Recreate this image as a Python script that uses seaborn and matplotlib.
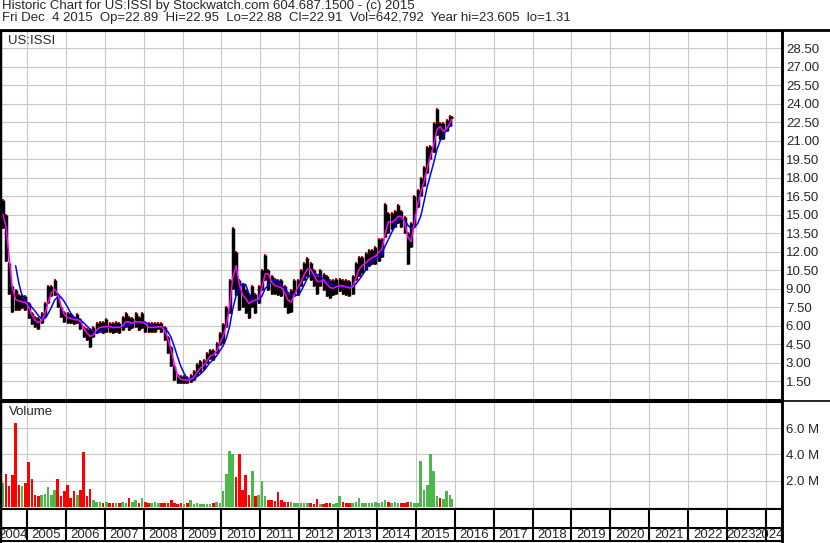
import pandas as pd
import matplotlib
matplotlib.use("Agg")
import matplotlib.pyplot as plt
from matplotlib.lines import Line2D
import seaborn as sns

# monthly high / low, May 2004 .. Dec 2015
months = pd.period_range("2004-05", "2015-12", freq="M")

high = [16.2, 15.0, 11.1, 9.2, 8.9, 8.5, 8.5, 8.4,
        7.8, 7.0, 6.7, 6.6, 7.0, 7.8, 9.2, 9.2, 9.7, 8.6, 7.5, 7.1,
        7.0, 6.9, 6.7, 6.9, 6.5, 5.9, 5.7, 5.7, 5.9, 6.2, 6.3, 6.3,
        6.5, 6.2, 6.2, 6.3, 6.2, 6.7, 7.0, 6.7, 6.6, 7.0, 6.7, 7.0,
        6.3, 6.2, 6.2, 6.2, 6.2, 6.2, 5.9, 5.1, 4.3, 2.7, 2.0, 1.9,
        1.9, 1.8, 2.0, 2.3, 2.9, 3.1, 3.2, 3.8, 4.0, 4.0, 4.6, 5.4,
        6.1, 7.5, 9.7, 13.9, 12.0, 9.7, 9.4, 8.9, 8.6, 9.2, 8.6, 9.2,
        10.5, 11.7, 10.5, 10.0, 9.8, 9.7, 9.7, 9.2, 8.6, 8.9, 9.7, 9.7,
        10.5, 11.1, 11.5, 11.1, 10.5, 10.0, 10.5, 10.2, 10.0, 9.7, 9.7, 9.8,
        9.8, 9.7, 9.7, 9.6, 10.0, 11.1, 11.6, 11.6, 11.9, 12.1, 12.1, 12.4,
        13.0, 13.0, 15.9, 15.1, 15.1, 15.3, 15.8, 15.3, 14.8, 13.5, 14.3, 16.5,
        17.0, 18.0, 18.9, 20.5, 20.6, 22.4, 23.6, 22.4, 22.4, 22.7, 23.0, 22.95]

low = [13.9, 11.2, 8.6, 7.1, 7.3, 7.3, 7.4, 7.3,
       6.6, 6.1, 5.9, 5.7, 6.2, 6.7, 7.8, 8.4, 8.5, 7.5, 6.7, 6.3,
       6.2, 6.2, 6.1, 6.2, 5.7, 5.1, 4.8, 4.3, 5.1, 5.4, 5.5, 5.4,
       5.5, 5.5, 5.4, 5.5, 5.4, 5.6, 5.9, 5.6, 5.8, 5.9, 5.6, 5.8,
       5.5, 5.5, 5.5, 5.5, 5.7, 5.5, 4.8, 3.8, 2.7, 1.6, 1.3, 1.3,
       1.3, 1.3, 1.4, 1.6, 2.0, 2.2, 2.5, 3.0, 3.3, 3.2, 3.8, 4.4,
       4.6, 5.9, 7.0, 9.0, 8.5, 7.3, 7.5, 7.0, 6.6, 7.5, 7.0, 7.8,
       8.9, 9.7, 8.9, 8.6, 8.6, 8.5, 8.4, 7.5, 7.0, 7.1, 8.4, 8.5,
       9.2, 9.7, 10.0, 9.7, 9.2, 8.6, 9.2, 8.9, 8.4, 8.2, 8.5, 8.6,
       8.8, 8.6, 8.5, 8.4, 8.6, 9.7, 10.0, 10.3, 10.5, 10.8, 11.0, 11.0,
       11.2, 11.6, 13.2, 13.5, 13.8, 14.0, 14.3, 14.0, 13.5, 11.0, 12.4, 14.0,
       15.6, 16.5, 17.3, 18.4, 19.5, 20.1, 21.5, 21.1, 21.1, 21.8, 22.2, 22.88]

# volume in millions of shares
volume = [1.8, 2.5, 1.6, 2.4, 6.4, 1.7, 1.6, 1.8,
          3.4, 2.1, 0.9, 0.8, 0.9, 1.0, 1.5, 0.9, 1.3, 2.1, 0.8, 1.2,
          1.7, 0.7, 1.2, 0.9, 1.3, 4.2, 0.8, 1.4, 0.5, 0.4, 0.4, 0.3,
          0.4, 0.3, 0.3, 0.3, 0.3, 0.4, 0.3, 0.65, 0.4, 0.5, 0.3, 0.65,
          0.4, 0.3, 0.3, 0.35, 0.3, 0.3, 0.3, 0.3, 0.55, 0.3, 0.2, 0.3,
          0.2, 0.3, 0.55, 0.25, 0.3, 0.2, 0.2, 0.25, 0.2, 0.3, 0.35, 0.3,
          1.2, 2.5, 4.3, 4.0, 2.3, 4.0, 1.3, 2.4, 0.9, 2.7, 0.8, 0.9,
          2.0, 0.8, 0.5, 0.5, 0.45, 1.1, 0.5, 0.4, 0.35, 0.4, 0.3, 0.3,
          0.3, 0.3, 0.3, 0.3, 0.25, 0.6, 0.2, 0.25, 0.3, 0.3, 0.2, 0.3,
          0.8, 0.4, 0.3, 0.3, 0.3, 0.35, 0.65, 0.3, 0.3, 0.3, 0.3, 0.35,
          0.3, 0.4, 0.5, 0.4, 0.3, 0.35, 0.3, 0.3, 0.3, 0.4, 0.35, 0.3,
          0.3, 3.5, 1.3, 1.7, 4.0, 2.7, 0.8, 0.7, 0.6, 1.2, 0.9, 0.6]

years = list(range(2004, 2025))
price_ticks = [1.5, 3.0, 4.5, 6.0, 7.5, 9.0, 10.5, 12.0, 13.5, 15.0,
               16.5, 18.0, 19.5, 21.0, 22.5, 24.0, 25.5, 27.0, 28.5]
vol_ticks = [2, 4, 6]
vol_labels = ["2.0 M", "4.0 M", "6.0 M"]

title_1 = "Historic Chart for US:ISSI by Stockwatch.com 604.687.1500 - (c) 2015"
title_2 = ("Fri Dec  4 2015  Op=22.89  Hi=22.95  Lo=22.88  Cl=22.91  "
           "Vol=642,792  Year hi=23.605  lo=1.31")

df = pd.DataFrame({"high": high, "low": low, "vol": volume})
df["t"] = months.year + (months.month - 0.5) / 12
df.loc[df.index[-1], "t"] = 2015.925  # last bar is Dec 4
df["close"] = (df["high"] + df["low"]) / 2
df["fast"] = df["close"].rolling(2, min_periods=1).mean()
df["slow"] = df["close"].rolling(5).mean()
df["up"] = df["close"].diff().fillna(0) >= 0

sns.set_style("white")
plt.rcParams["font.family"] = ["Liberation Sans", "DejaVu Sans"]
FS = 9.5
GRID = "#c8c8c8"

W, H = 830, 543
fig = plt.figure(figsize=(W / 100, H / 100), dpi=100)


def box(x0, y0, x1, y1):
    return [x0 / W, 1 - y1 / H, (x1 - x0) / W, (y1 - y0) / H]


ax = fig.add_axes(box(0, 31, 781.7, 400))
axv = fig.add_axes(box(0, 402, 781.7, 509))
axs = fig.add_axes(box(0, 509, 781.7, 541))

x0, x1 = 2004.306, 2024.406
for a in (ax, axv, axs):
    a.set_xlim(x0, x1)
    a.set_xticks(years[1:])
    a.tick_params(axis="x", length=0, labelbottom=False)
    a.set_axisbelow(True)
    for side in ("left", "right", "top", "bottom"):
        a.spines[side].set_color("black")
        a.spines[side].set_visible(True)
    a.spines["left"].set_linewidth(2.5)
    a.spines["right"].set_linewidth(1.8)
    a.spines["top"].set_linewidth(1.5)
    a.spines["bottom"].set_linewidth(1.5)

# price panel
ax.set_ylim(-0.04, 29.9)
ax.grid(True, color=GRID, lw=0.8)
ax.vlines(df["t"], df["low"], df["high"], color="black", lw=2.5)
sns.scatterplot(x=df["t"], y=df["high"], color="red", marker="s", s=2.5,
                linewidth=0, ax=ax)
sns.scatterplot(x=df["t"], y=df["low"], color="red", marker="s", s=2.5,
                linewidth=0, ax=ax)
sns.lineplot(x=df["t"], y=df["slow"], color="#0000ff", lw=1.1, ax=ax)
sns.lineplot(x=df["t"], y=df["fast"], color="#ff00ff", lw=1.1, ax=ax)
ax.set_xlabel("")
ax.set_ylabel("")
ax.yaxis.tick_right()
ax.set_yticks(price_ticks)
ax.set_yticklabels([f"{v:.2f}" for v in price_ticks])
ax.tick_params(axis="y", length=0, pad=3, labelsize=FS)

# volume panel
axv.set_ylim(-0.16, 8.0)
axv.grid(True, color=GRID, lw=0.8)
colors = ["#4cb84c" if u else "#ff0000" for u in df["up"]]
axv.bar(df["t"], df["vol"], width=0.8 / 12, color=colors, linewidth=0)
axv.yaxis.tick_right()
axv.set_yticks(vol_ticks)
axv.set_yticklabels(vol_labels)
axv.tick_params(axis="y", length=0, pad=3, labelsize=FS)

# year strip
axs.set_ylim(0, 1)
axs.set_yticks([])
for yr in years:
    axs.axvline(yr, color="black", lw=1.5)
axs.axhline(0.42, color="black", lw=1.5)
label_x = [yr + 0.5 for yr in years]
label_x[0] = 2004.63
label_x[-2] = 2023.37
label_x[-1] = 2024.09
for yr, lx in zip(years, label_x):
    axs.text(lx, 0.2, str(yr), ha="center", va="center", fontsize=FS,
             clip_on=False)

# header and frame
fig.text(2 / W, 1 - 0.5 / H, title_1, ha="left", va="top", fontsize=FS)
fig.text(2 / W, 1 - 11.5 / H, title_2, ha="left", va="top", fontsize=FS)
fig.text(8 / W, 1 - 35 / H, "US:ISSI", ha="left", va="top", fontsize=FS)
fig.text(9 / W, 1 - 406 / H, "Volume", ha="left", va="top", fontsize=FS)
fig.add_artist(Line2D([0, 1], [1 - 30 / H] * 2, color="black", lw=2))
fig.add_artist(Line2D([781.7 / W, 1], [1 - 401 / H] * 2, color="black", lw=1.2))
fig.add_artist(Line2D([781.7 / W] * 2, [0, 1 - 30 / H], color="black", lw=1.8))

fig.savefig("out.png", dpi=100)
